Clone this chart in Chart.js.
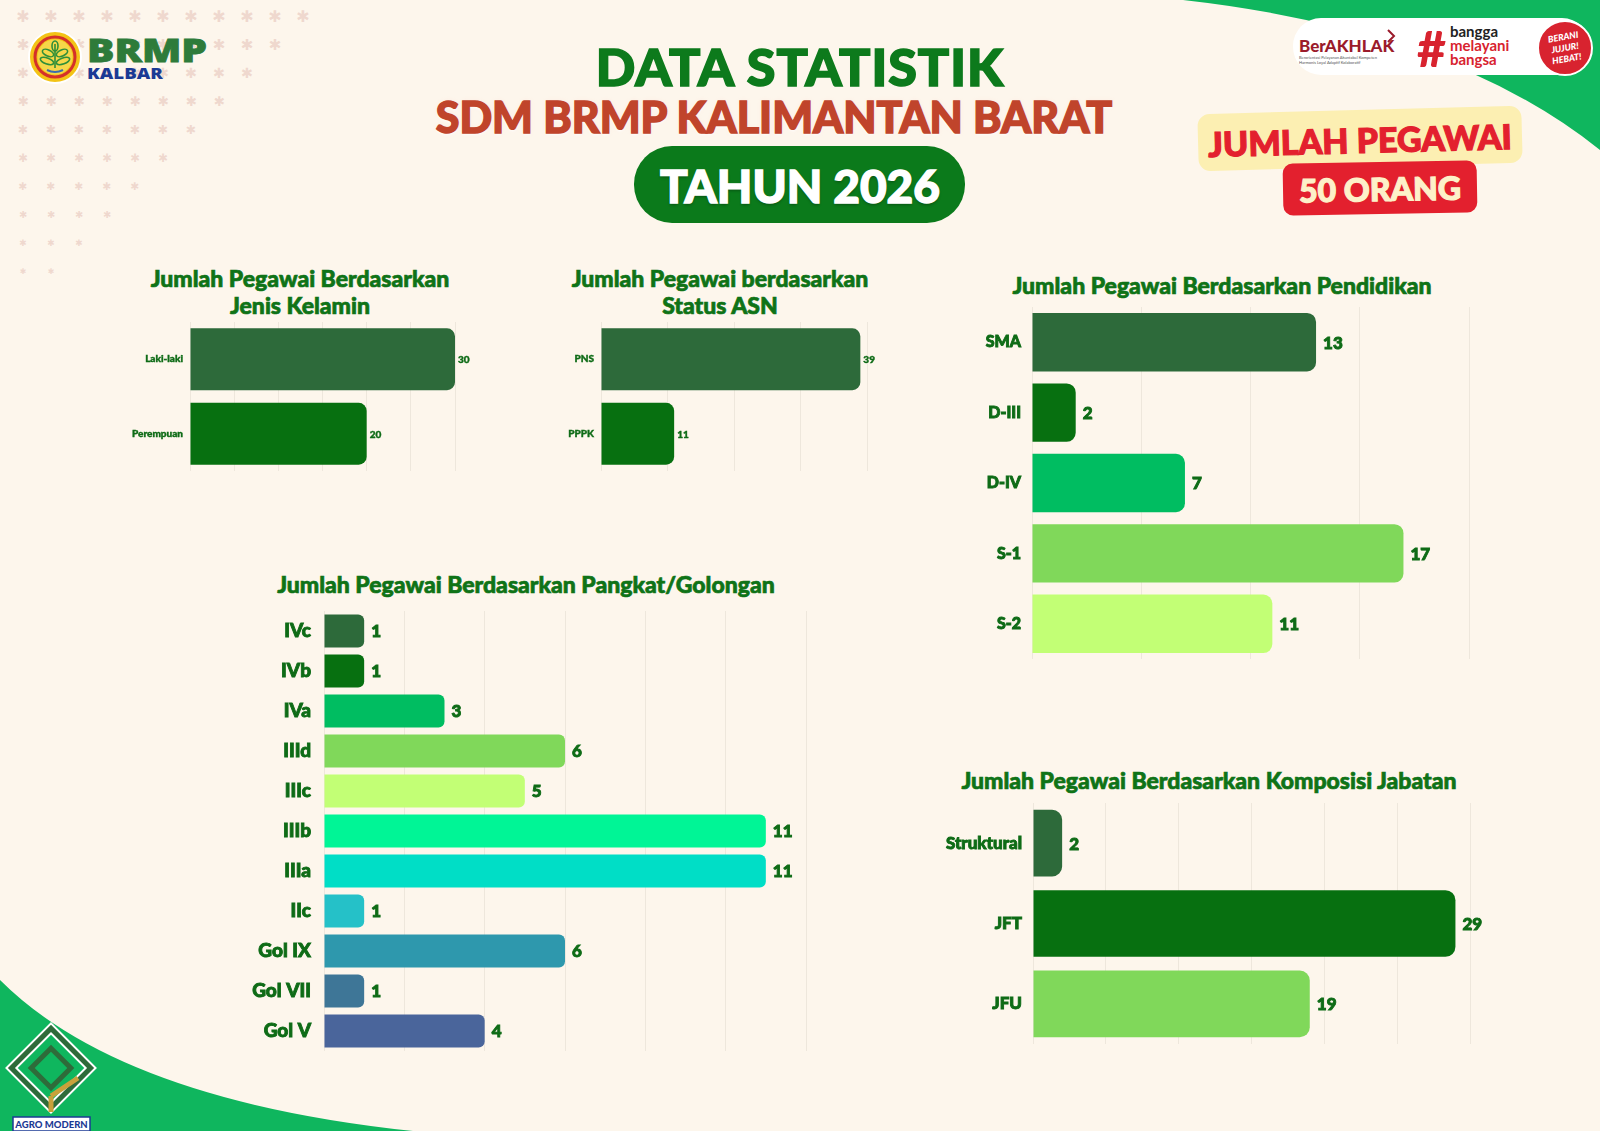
<!DOCTYPE html>
<html>
<head>
<meta charset="utf-8">
<script src="https://cdn.jsdelivr.net/npm/chart.js@4.4.1/dist/chart.umd.min.js"></script>
<style>
  html, body { margin: 0; padding: 0; }
  body { width: 1600px; height: 1131px; background: #fdf6ec; position: relative; overflow: hidden; font-family: 'Lato', 'DejaVu Sans', sans-serif; }
  #deco { position: absolute; left: 0; top: 0; }
  .txt { position: absolute; transform: translate(-50%, -50%); white-space: nowrap; font-weight: 900; text-align: center; }
  .ctitle { color: #0f7317; font-size: 23px; line-height: 27px; -webkit-text-stroke: 0.7px #0f7317; }
  .box { position: absolute; }
</style>
</head>
<body>
<svg id="deco" width="1600" height="1131" viewBox="0 0 1600 1131">
  <!-- swooshes -->
  <path d="M1183,0 Q1450,30 1600,150 L1600,0 Z" fill="#0fb65e"/>
  <path d="M0,980 Q120,1100 413,1131 L0,1131 Z" fill="#0fb65e"/>
  <g id="stars" fill="#efd8ce"></g>

  <!-- BRMP logo -->
  <circle cx="55" cy="57" r="26" fill="#f3c316" stroke="#fff" stroke-width="2"/>
  <circle cx="55" cy="57" r="20" fill="none" stroke="#d4302a" stroke-width="3"/>
  <circle cx="55" cy="57" r="17.5" fill="#f6d749"/>
  <g stroke="#2f8f3a" stroke-width="1.6" fill="none">
    <line x1="55" y1="44" x2="55" y2="68"/>
    <ellipse cx="55" cy="46" rx="3" ry="5"/>
    <ellipse cx="48" cy="53" rx="6" ry="3" transform="rotate(25 48 53)"/>
    <ellipse cx="62" cy="53" rx="6" ry="3" transform="rotate(-25 62 53)"/>
    <ellipse cx="47" cy="61" rx="7" ry="3" transform="rotate(20 47 61)"/>
    <ellipse cx="63" cy="61" rx="7" ry="3" transform="rotate(-20 63 61)"/>
  </g>
  <path d="M47,70 Q55,74 63,70" stroke="#3a6bb0" stroke-width="2" fill="none"/>
  <text x="87" y="62" textLength="120" lengthAdjust="spacingAndGlyphs" font-family="Open Sans, Lato, sans-serif" font-weight="800" font-size="32" fill="#2e7b3a" stroke="#2e7b3a" stroke-width="0.8">BRMP</text>
  <text x="87" y="79" textLength="76" lengthAdjust="spacingAndGlyphs" font-family="Open Sans, Lato, sans-serif" font-weight="800" font-size="15" fill="#1b3a94">KALBAR</text>

  <!-- top right badges -->
  <rect x="1293" y="18" width="297" height="57" rx="28" fill="#ffffff"/>
  <text x="1299" y="52" font-family="Lato, sans-serif" font-weight="900" font-size="17" fill="#9b1b2b">BerAKHLAK</text>
  <path d="M1388,30 L1394,36 L1388,42" stroke="#9b1b2b" stroke-width="2" fill="none"/>
  <text x="1299" y="59" font-family="Lato, sans-serif" font-size="4" fill="#555">Berorientasi Pelayanan Akuntabel Kompeten</text>
  <text x="1299" y="64" font-family="Lato, sans-serif" font-size="4" fill="#555">Harmonis Loyal Adaptif Kolaboratif</text>
  <text x="1417" y="67" font-family="Lato, sans-serif" font-weight="900" font-size="50" fill="#d8232f">#</text>
  <text x="1450" y="37" font-family="Lato, sans-serif" font-weight="700" font-size="15" fill="#222">bangga</text>
  <text x="1450" y="51" font-family="Lato, sans-serif" font-weight="700" font-size="15" fill="#d8232f">melayani</text>
  <text x="1450" y="65" font-family="Lato, sans-serif" font-weight="700" font-size="15" fill="#d8232f">bangsa</text>
  <circle cx="1565" cy="48" r="27" fill="#d8232f" stroke="#fff" stroke-width="2"/>
  <g transform="rotate(-10 1565 48)" font-family="Lato, sans-serif" font-style="italic" font-weight="900" font-size="9" fill="#fff" text-anchor="middle">
    <text x="1565" y="40">BERANI</text>
    <text x="1565" y="51">JUJUR!</text>
    <text x="1565" y="62">HEBAT!</text>
  </g>

  <!-- Jumlah pegawai badge -->
  <rect x="1198" y="110" width="324" height="57" rx="12" fill="#fcefb2" transform="rotate(-1.5 1360 138)"/>
  <text x="1360" y="153" text-anchor="middle" font-family="Lato, sans-serif" font-weight="900" font-size="34" fill="#e3202e" stroke="#e3202e" stroke-width="1.2" transform="rotate(-1.5 1360 138)">JUMLAH PEGAWAI</text>
  <rect x="1283" y="162" width="194" height="52" rx="10" fill="#e3202e" transform="rotate(-1 1380 188)"/>
  <text x="1380" y="201" text-anchor="middle" font-family="Lato, sans-serif" font-weight="900" font-size="32" fill="#fdf1c9" stroke="#fdf1c9" stroke-width="1.2" transform="rotate(-1 1380 188)">50 ORANG</text>

  <!-- title pill -->
  <rect x="634" y="146" width="331" height="77" rx="38" fill="#0b7a1b"/>

  <!-- Agro modern logo -->
  <g transform="translate(51 1068) rotate(45)">
    <rect x="-28" y="-28" width="56" height="56" fill="none" stroke="#ffffff" stroke-width="9"/>
    <rect x="-28" y="-28" width="56" height="56" fill="none" stroke="#2e6b3a" stroke-width="5"/>
    <rect x="-14" y="-14" width="28" height="28" fill="none" stroke="#2e6b3a" stroke-width="5"/>
  </g>
  <path d="M51,1096 L51,1112 M51,1096 L78,1078" stroke="#c9a13b" stroke-width="5" fill="none"/>
  <rect x="13" y="1117" width="77" height="14" fill="#ffffff" stroke="#1b3a94" stroke-width="1.5"/>
  <text x="51.5" y="1128" text-anchor="middle" font-family="Lato, sans-serif" font-weight="900" font-size="9.5" fill="#1b3a94">AGRO MODERN</text>
</svg>

<div class="txt" style="left:800px; top:66px; font-size:52px; color:#0d7a1c; letter-spacing:1px; -webkit-text-stroke:1.6px #0d7a1c;">DATA STATISTIK</div>
<div class="txt" style="left:774px; top:116px; font-size:43px; color:#c0442b; -webkit-text-stroke:1.4px #c0442b; text-shadow:0 2px 3px rgba(255,255,255,0.9), 0 0 4px rgba(255,230,220,0.8);">SDM BRMP KALIMANTAN BARAT</div>
<div class="txt" style="left:800px; top:185px; font-size:46px; color:#ffffff; -webkit-text-stroke:1.4px #ffffff; text-shadow:0 2px 3px rgba(0,0,0,0.3);">TAHUN 2026</div>

<div class="txt ctitle" style="left:300px; top:292px;">Jumlah Pegawai Berdasarkan<br>Jenis Kelamin</div>
<div class="txt ctitle" style="left:720px; top:292px;">Jumlah Pegawai berdasarkan<br>Status ASN</div>
<div class="txt ctitle" style="left:1222px; top:285px;">Jumlah Pegawai Berdasarkan Pendidikan</div>
<div class="txt ctitle" style="left:526px; top:584px;">Jumlah Pegawai Berdasarkan Pangkat/Golongan</div>
<div class="txt ctitle" style="left:1209px; top:780px;">Jumlah Pegawai Berdasarkan Komposisi Jabatan</div>

<div class="box" style="left:100px; top:322px;"><canvas id="genderChart" width="390" height="149"></canvas></div>
<div class="box" style="left:520px; top:322px;"><canvas id="asnChart" width="382" height="149"></canvas></div>
<div class="box" style="left:940px; top:307px;"><canvas id="eduChart" width="569" height="352"></canvas></div>
<div class="box" style="left:240px; top:611px;"><canvas id="rankChart" width="606" height="440"></canvas></div>
<div class="box" style="left:920px; top:803px;"><canvas id="jobChart" width="590" height="241"></canvas></div>

<script>
const genderLabels = ['Laki-laki', 'Perempuan'];
const genderValues = [30, 20];

const asnLabels = ['PNS', 'PPPK'];
const asnValues = [39, 11];

const eduLabels = ['SMA', 'D-III', 'D-IV', 'S-1', 'S-2'];
const eduValues = [13, 2, 7, 17, 11];

const rankLabels = ['IVc', 'IVb', 'IVa', 'IIId', 'IIIc', 'IIIb', 'IIIa', 'IIc', 'Gol IX', 'Gol VII', 'Gol V'];
const rankValues = [1, 1, 3, 6, 5, 11, 11, 1, 6, 1, 4];

const jobLabels = ['Struktural', 'JFT', 'JFU'];
const jobValues = [2, 29, 19];

// palette
const DARK = '#2d6a3a', DEEP = '#077010', EMER = '#00bd61', LIME = '#80d85a', PALE = '#c2ff75';
const rankColors = [DARK, DEEP, EMER, LIME, PALE, '#00f596', '#00dec6', '#25c1c8', '#2e98ad', '#3e7697', '#4a659b'];
const LABEL = '#0e6b16';
const GRID = '#eee7dc';
const FONT = "'Lato', 'DejaVu Sans', sans-serif";

// stars pattern top-left
const stars = document.getElementById('stars');
for (let r = 0; r < 10; r++) {
    for (let c = 0; c < 11 - r; c++) {
        let t = document.createElementNS('http://www.w3.org/2000/svg', 'text');
        t.setAttribute('x', 23 + c * 28);
        t.setAttribute('y', 22 + r * 28);
        t.setAttribute('text-anchor', 'middle');
        t.setAttribute('font-family', 'DejaVu Sans');
        t.setAttribute('font-size', 16 - r * 0.9);
        t.textContent = '\u2731';
        stars.appendChild(t);
    }
}

// draws the count at the end of each bar
const valueLabels = {
    id: 'valueLabels',
    afterDatasetsDraw(chart, args, opts) {
        const ctx = chart.ctx;
        const ds = chart.data.datasets[0];
        ctx.save();
        ctx.font = `900 ${opts.size}px ${FONT}`;
        ctx.fillStyle = LABEL;
        ctx.strokeStyle = LABEL;
        ctx.lineWidth = opts.size > 12 ? 0.9 : 0.4;
        ctx.textBaseline = 'middle';
        chart.getDatasetMeta(0).data.forEach((bar, i) => {
            ctx.strokeText(ds.data[i], bar.x + opts.gap, bar.y + 1);
            ctx.fillText(ds.data[i], bar.x + opts.gap, bar.y + 1);
        });
        ctx.restore();
    }
};

function makeBarChart(id, labels, values, colors, cfg) {
    return new Chart(document.getElementById(id), {
        type: 'bar',
        data: {
            labels: labels,
            datasets: [{
                data: values,
                backgroundColor: colors,
                borderRadius: cfg.radius,
                borderSkipped: 'start',
                barPercentage: 0.83,
                categoryPercentage: 1
            }]
        },
        options: {
            indexAxis: 'y',
            responsive: false,
            animation: false,
            layout: { padding: { left: 0, top: 0, bottom: 0, right: cfg.padRight } },
            plugins: {
                legend: { display: false },
                tooltip: { enabled: false },
                valueLabels: { size: cfg.valueSize, gap: cfg.gap }
            },
            scales: {
                x: {
                    min: 0, max: cfg.max,
                    ticks: { display: false, stepSize: cfg.step },
                    grid: { color: GRID, drawTicks: false },
                    border: { display: false }
                },
                y: {
                    grid: { display: false, drawTicks: false },
                    border: { display: false },
                    ticks: {
                        color: LABEL, padding: cfg.labelPad,
                        textStrokeColor: LABEL, textStrokeWidth: cfg.labelSize > 12 ? 0.9 : 0.4,
                        font: { family: FONT, weight: '900', size: cfg.labelSize }
                    },
                    afterFit: s => { s.width = cfg.axisWidth; s.paddingTop = 0; s.paddingBottom = 0; }
                }
            }
        },
        plugins: [valueLabels]
    });
}

makeBarChart('genderChart', genderLabels, genderValues, [DARK, DEEP],
    { max: 30, step: 5, axisWidth: 90, padRight: 35, labelSize: 10, valueSize: 10, labelPad: 7, gap: 3, radius: 8 });
makeBarChart('asnChart', asnLabels, asnValues, [DARK, DEEP],
    { max: 40, step: 10, axisWidth: 81, padRight: 35, labelSize: 10, valueSize: 10, labelPad: 7, gap: 3, radius: 8 });
makeBarChart('eduChart', eduLabels, eduValues, [DARK, DEEP, EMER, LIME, PALE],
    { max: 20, step: 5, axisWidth: 92, padRight: 40, labelSize: 16, valueSize: 17, labelPad: 11, gap: 7, radius: 9 });
makeBarChart('rankChart', rankLabels, rankValues, rankColors,
    { max: 12, step: 2, axisWidth: 84, padRight: 40, labelSize: 19, valueSize: 17, labelPad: 13, gap: 7, radius: 6 });
makeBarChart('jobChart', jobLabels, jobValues, [DARK, DEEP, LIME],
    { max: 30, step: 5, axisWidth: 113, padRight: 40, labelSize: 17, valueSize: 17, labelPad: 11, gap: 7, radius: 10 });
</script>
</body>
</html>
